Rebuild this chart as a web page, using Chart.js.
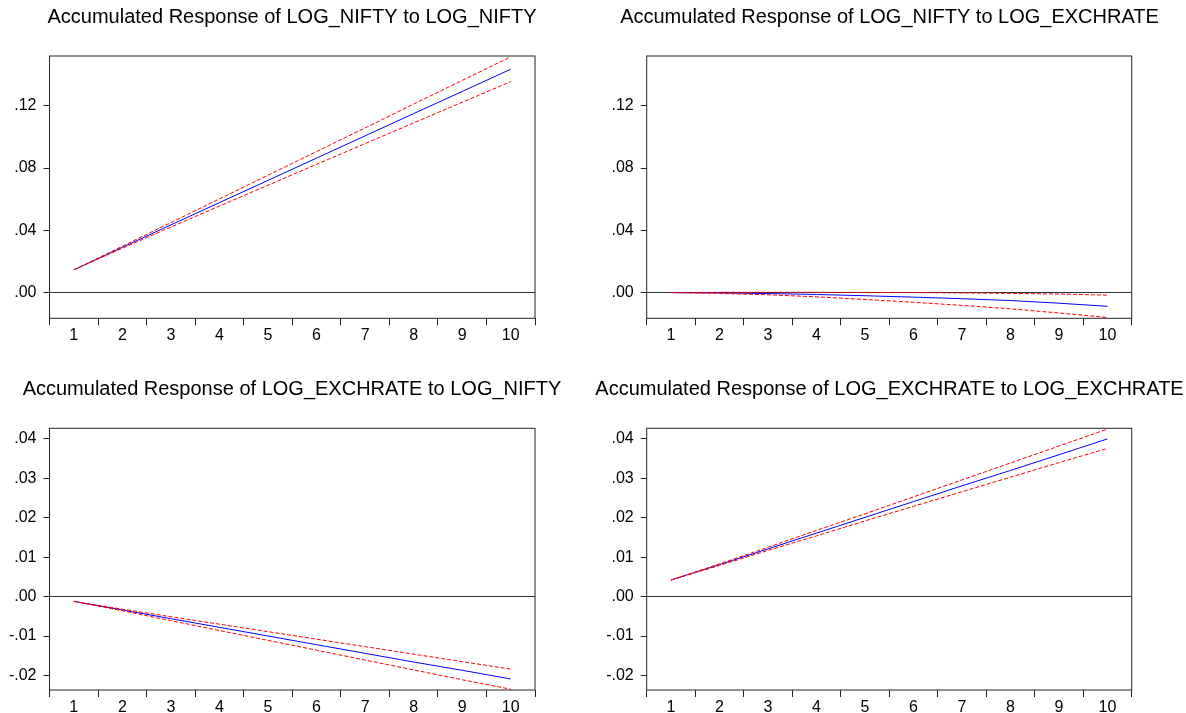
<!DOCTYPE html>
<html>
<head>
<meta charset="utf-8">
<script src="https://cdn.jsdelivr.net/npm/chart.js@4.4.1/dist/chart.umd.min.js"></script>
<style>
  body { margin: 0; background: #fff; }
  #wrap { position: relative; width: 1186px; height: 713px; overflow: hidden; }
  canvas { position: absolute; }
</style>
</head>
<body>
<div id="wrap">
  <canvas id="c1" width="584" height="356" style="left:0px;top:0px"></canvas>
  <canvas id="c2" width="593" height="356" style="left:593px;top:0px"></canvas>
  <canvas id="c3" width="584" height="357" style="left:0px;top:356px"></canvas>
  <canvas id="c4" width="593" height="357" style="left:593px;top:356px"></canvas>
</div>
<script>
var steps = ["1", "2", "3", "4", "5", "6", "7", "8", "9", "10"];

var topTicks = [0, 0.04, 0.08, 0.12];
var bottomTicks = [-0.02, -0.01, 0, 0.01, 0.02, 0.03, 0.04];

// LOG_NIFTY to LOG_NIFTY
var niftyNifty = [0.0146, 0.0291, 0.0435, 0.0578, 0.0721, 0.0864, 0.1007, 0.1150, 0.1292, 0.1435];
var niftyNiftyUp = [0.0146, 0.0298, 0.0450, 0.0602, 0.0754, 0.0906, 0.1058, 0.1211, 0.1363, 0.1515];
var niftyNiftyLo = [0.0146, 0.0285, 0.0421, 0.0556, 0.0690, 0.0824, 0.0957, 0.1090, 0.1223, 0.1355];

// LOG_NIFTY to LOG_EXCHRATE
var niftyExch = [0.0000, -0.0002, -0.0006, -0.0012, -0.0020, -0.0029, -0.0039, -0.0051, -0.0068, -0.0088];
var niftyExchUp = [0.0001, 0.0002, 0.0002, 0.0002, 0.0001, 0.0000, -0.0002, -0.0005, -0.0009, -0.0016];
var niftyExchLo = [0.0000, -0.0005, -0.0014, -0.0027, -0.0044, -0.0062, -0.0082, -0.0104, -0.0131, -0.0160];

// LOG_EXCHRATE to LOG_NIFTY
var exchNifty = [-0.0012, -0.0034, -0.0056, -0.0078, -0.0100, -0.0122, -0.0144, -0.0166, -0.0187, -0.0209];
var exchNiftyUp = [-0.0012, -0.0032, -0.0051, -0.0070, -0.0089, -0.0108, -0.0127, -0.0146, -0.0165, -0.0184];
var exchNiftyLo = [-0.0012, -0.0036, -0.0061, -0.0086, -0.0111, -0.0136, -0.0161, -0.0186, -0.0211, -0.0235];

// LOG_EXCHRATE to LOG_EXCHRATE
var exchExch = [0.0042, 0.0081, 0.0121, 0.0161, 0.0201, 0.0241, 0.0281, 0.0320, 0.0360, 0.0400];
var exchExchUp = [0.0042, 0.0083, 0.0125, 0.0168, 0.0210, 0.0253, 0.0296, 0.0339, 0.0382, 0.0425];
var exchExchLo = [0.0042, 0.0079, 0.0117, 0.0154, 0.0192, 0.0229, 0.0266, 0.0303, 0.0340, 0.0376];

var FONT = "'Liberation Sans', Arial, sans-serif";

// draws the box round the plot area
var framePlugin = {
  id: "frame",
  afterDatasetsDraw: function (chart) {
    var a = chart.chartArea;
    var c = chart.ctx;
    c.save();
    c.strokeStyle = "#222";
    c.lineWidth = 1;
    c.strokeRect(a.left, a.top, a.right - a.left, a.bottom - a.top);
    c.restore();
  }
};

function fmt(v) {
  var s = Math.abs(v).toFixed(2).replace(/^0/, "");
  return (v < -1e-9 ? "-" : "") + s;
}

function panel(id, title, mid, up, lo, yMin, yMax, ticks, opt) {
  new Chart(document.getElementById(id), {
    type: "line",
    data: {
      labels: steps,
      datasets: [
        { data: up, borderColor: "#ff0000", borderWidth: 1, borderDash: [4, 2], pointRadius: 0, tension: 0 },
        { data: lo, borderColor: "#ff0000", borderWidth: 1, borderDash: [4, 2], pointRadius: 0, tension: 0 },
        { data: mid, borderColor: "#0000ff", borderWidth: 1, pointRadius: 0, tension: 0 }
      ]
    },
    options: {
      responsive: false,
      animation: false,
      layout: { padding: 0 },
      plugins: {
        legend: { display: false },
        tooltip: { enabled: false },
        title: {
          display: true,
          text: title,
          color: "#000",
          font: { family: FONT, size: 20, weight: "normal" },
          padding: { top: opt.titleTop, bottom: opt.titleBottom }
        }
      },
      scales: {
        x: {
          type: "category",
          offset: true,
          border: { display: false },
          grid: { offset: true, drawOnChartArea: false, tickLength: 7, color: "#222" },
          ticks: { color: "#000", font: { family: FONT, size: 16 }, padding: 1, maxRotation: 0, autoSkip: false },
          afterFit: function (s) { s.height = opt.xHeight; }
        },
        y: {
          min: yMin,
          max: yMax,
          border: { display: false },
          grid: {
            tickLength: 6,
            tickColor: "#222",
            color: function (ctx) {
              return ctx.tick && Math.abs(ctx.tick.value) < 1e-9 ? "#333" : "rgba(0,0,0,0)";
            }
          },
          ticks: {
            color: "#000",
            font: { family: FONT, size: 16 },
            padding: 7,
            callback: function (v) { return fmt(v); }
          },
          afterBuildTicks: function (s) {
            s.ticks = ticks.map(function (v) { return { value: v }; });
          },
          afterFit: function (s) { s.width = opt.yWidth; }
        },
        // empty right side so the title stays centred over the plot box
        yRight: {
          position: "right",
          border: { display: false },
          grid: { display: false },
          ticks: { display: false },
          afterFit: function (s) { s.width = opt.padRight; }
        }
      }
    },
    plugins: [framePlugin]
  });
}

panel("c1", "Accumulated Response of LOG_NIFTY to LOG_NIFTY",
  niftyNifty, niftyNiftyUp, niftyNiftyLo, -0.0165, 0.152, topTicks,
  { padRight: 49, yWidth: 49.5, titleTop: 5, titleBottom: 27, xHeight: 37.7 });

panel("c2", "Accumulated Response of LOG_NIFTY to LOG_EXCHRATE",
  niftyExch, niftyExchUp, niftyExchLo, -0.0165, 0.152, topTicks,
  { padRight: 54.3, yWidth: 53.7, titleTop: 5, titleBottom: 27, xHeight: 37.7 });

panel("c3", "Accumulated Response of LOG_EXCHRATE to LOG_NIFTY",
  exchNifty, exchNiftyUp, exchNiftyLo, -0.0237, 0.0427, bottomTicks,
  { padRight: 49, yWidth: 49.5, titleTop: 21, titleBottom: 27.3, xHeight: 23 });

panel("c4", "Accumulated Response of LOG_EXCHRATE to LOG_EXCHRATE",
  exchExch, exchExchUp, exchExchLo, -0.0237, 0.0427, bottomTicks,
  { padRight: 54.3, yWidth: 53.7, titleTop: 21, titleBottom: 27.3, xHeight: 23 });
</script>
</body>
</html>
